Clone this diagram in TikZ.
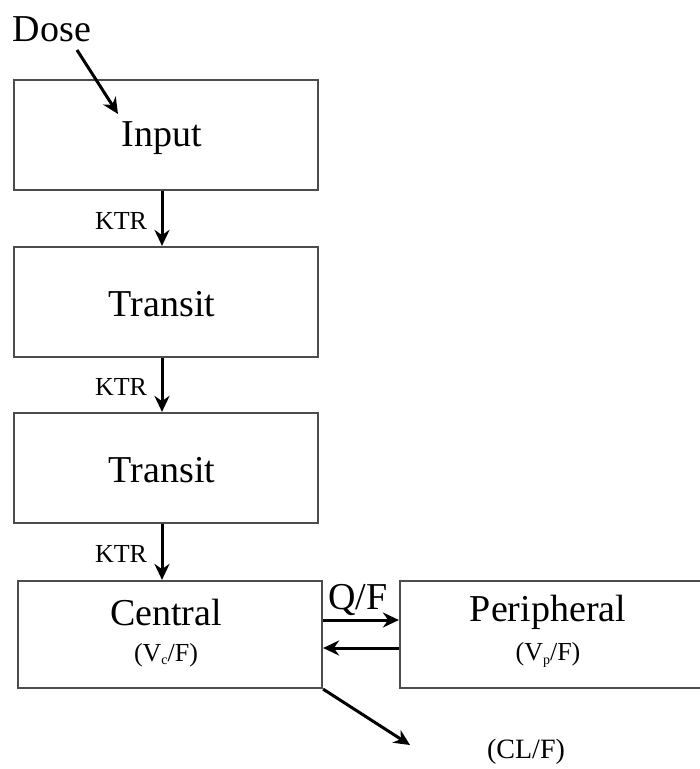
\documentclass[tikz,border=0pt]{standalone}
\usepackage{fontspec}
\setmainfont{Liberation Serif}
\usetikzlibrary{arrows.meta}
\begin{document}
\begin{tikzpicture}[x=1pt,y=-1pt,
  comp/.style={draw=black!70,line width=2.2pt,fill=white,minimum width=304pt,minimum height=110pt,inner sep=0pt},
  big/.style={font=\fontsize{38}{40}\selectfont},
  small/.style={font=\fontsize{26}{28}\selectfont},
  flow/.style={line width=3pt,-{Stealth[length=16pt,width=15pt]}}]
\path[use as bounding box] (0,0) rectangle (700,769);
\clip (0,0) rectangle (700,769);
\node[comp] (input) at (166,135) {};
\node[big] (inputlbl) at (162,138) {Input};
\node[comp] (tr1) at (166,302) {};
\node[big] at (162,304) {Transit};
\node[comp] (tr2) at (166,468) {};
\node[big] at (162,470) {Transit};
\node[comp,minimum height=107pt] (central) at (170,634.5) {};
\node[big] at (166,612) {Central};
\node[small] at (166,655) {(V\raisebox{-0.3ex}{\fontsize{14}{14}\selectfont c}/F)};
\node[comp,minimum height=107pt,minimum width=320pt] (periph) at (560,634.5) {};
\node[big] at (548,612) {Peripheral};
\node[small] at (548,655) {(V\raisebox{-0.3ex}{\fontsize{14}{14}\selectfont p}/F)};
\node[big] (dose) at (52,29) {Dose};
\coordinate (dosetip) at (118,114);
\draw[flow] (77,50) -- (dosetip);
\draw[flow] (input.south -| 162,0) -- (tr1.north -| 162,0);
\node[small] (k1) at (121,221) {KTR};
\draw[flow] (tr1.south -| 162,0) -- (tr2.north -| 162,0);
\node[small] (k2) at (121,387) {KTR};
\draw[flow] (tr2.south -| 162,0) -- (central.north -| 162,0);
\node[small] (k3) at (121,554) {KTR};
\node[big] (qf) at (358,600) {Q/F};
\draw[flow] (central.east |- 0,620) -- (periph.west |- 0,620);
\draw[flow] (periph.west |- 0,648) -- (central.east |- 0,648);
\coordinate (clend) at (410,745);
\draw[flow] (central.south east) -- (clend);
\node[font=\fontsize{28}{30}\selectfont] (cl) at (526,752) {(CL/F)};
\end{tikzpicture}
\end{document}
